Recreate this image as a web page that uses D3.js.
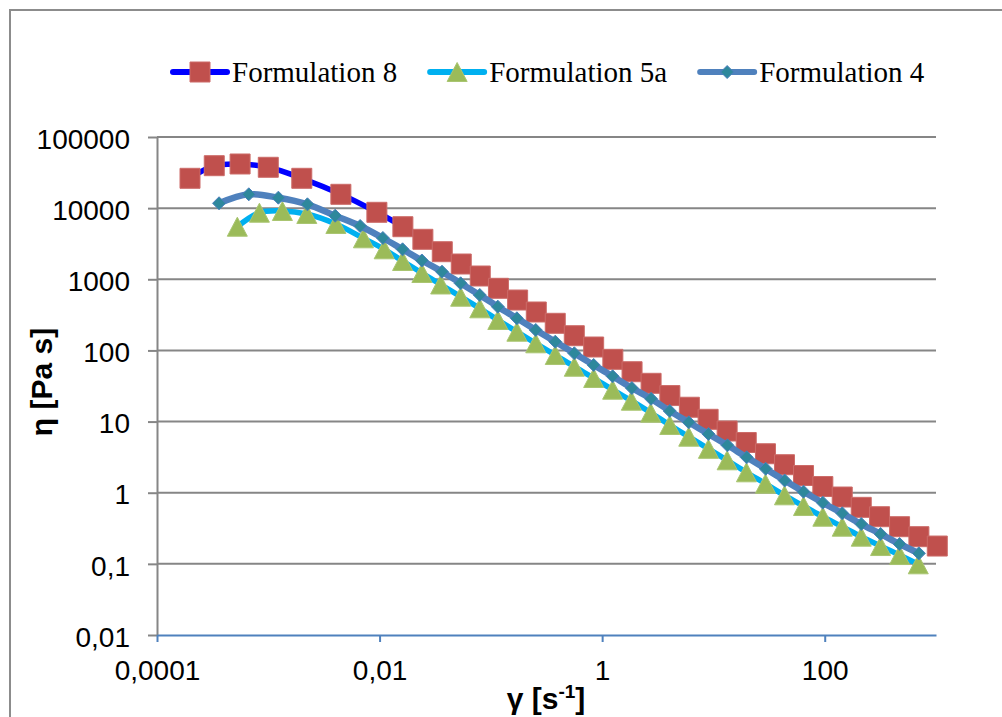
<!DOCTYPE html>
<html>
<head>
<meta charset="utf-8">
<script src="https://cdn.jsdelivr.net/npm/d3@7"></script>
<style>
body { margin: 0; background: #fff; }
text { font-family: Arial, "Liberation Sans", sans-serif; }
</style>
</head>
<body>
<div id="chart"></div>
<script>
// chart size
var width = 1002, height = 717;

// data
var seriesNames = ["Formulation 8", "Formulation 5a", "Formulation 4"];

var shear8 = [1.98e-4, 3.27e-4, 5.58e-4, 1.00e-3, 2.00e-3, 4.49e-3, 9.46e-3, 0.0162, 0.0245, 0.0366,
  0.0542, 0.0803, 0.117, 0.174, 0.256, 0.379, 0.562, 0.839, 1.248, 1.857,
  2.753, 4.06, 6.08, 8.96, 13.28, 19.72, 29.35, 43.5, 64.5, 96.2,
  143.7, 212.9, 311, 470.6, 702, 1027];
var visc8 = [26270, 39500, 41740, 37520, 26270, 15650, 8740, 5484, 3648, 2441,
  1640, 1112, 747, 511, 347, 240.6, 161, 111.7, 75.0, 50.2,
  34.5, 23.2, 15.9, 10.76, 7.37, 5.08, 3.53, 2.475, 1.745, 1.222,
  0.870, 0.623, 0.46, 0.333, 0.241, 0.178];

var shear5a = [5.27e-4, 8.32e-4, 1.339e-3, 2.219e-3, 4.05e-3, 7.16e-3, 0.011, 0.0161, 0.0240, 0.0354,
  0.0535, 0.0795, 0.1155, 0.1713, 0.2532, 0.379, 0.562, 0.839, 1.243, 1.83,
  2.73, 4.05, 6.0, 9.02, 13.28, 19.8, 29.35, 43.5, 64.5, 96.2,
  143.7, 212.9, 317.6, 470.6, 693];
var visc5a = [5484, 8627, 9117, 8271, 5986, 3767, 2639, 1807, 1226, 845,
  569, 391, 267.7, 183.3, 125.9, 86.2, 59.0, 40.96, 28.04, 19.64,
  13.32, 8.95, 6.13, 4.14, 2.854, 1.935, 1.338, 0.919, 0.650, 0.46,
  0.333, 0.241, 0.178, 0.133, 0.0985];

var shear4 = [3.61e-4, 6.68e-4, 1.232e-3, 2.247e-3, 3.99e-3, 6.69e-3, 0.01071, 0.0161, 0.0240, 0.0364,
  0.0535, 0.0795, 0.1155, 0.1713, 0.2532, 0.379, 0.562, 0.839, 1.243, 1.849,
  2.753, 4.05, 6.0, 9.02, 13.37, 19.89, 29.5, 43.7, 64.5, 96.2,
  143.7, 212.9, 317.6, 470.6, 702];
var visc4 = [11700, 15650, 14020, 11320, 7830, 5610, 3805, 2639, 1837, 1278,
  878, 601, 412, 282.8, 193.6, 132.6, 91.1, 62.4, 43.3, 29.6,
  20.9, 14.08, 9.76, 6.69, 4.64, 3.146, 2.168, 1.484, 1.033, 0.723,
  0.513, 0.363, 0.263, 0.190, 0.1406];

var xTicks = [1e-4, 1e-2, 1, 100];
var xTickLabels = ["0,0001", "0,01", "1", "100"];
var yTicks = [0.01, 0.1, 1, 10, 100, 1000, 10000, 100000];
var yTickLabels = ["0,01", "0,1", "1", "10", "100", "1000", "10000", "100000"];

// series styles
var series = [
  { name: seriesNames[0], xs: shear8, ys: visc8, line: "#0000ff", lw: 5.5, marker: "square", fill: "#c0504d", stroke: "#cc6b68" },
  { name: seriesNames[1], xs: shear5a, ys: visc5a, line: "#00b0f0", lw: 5.5, marker: "triangle", fill: "#9bbb59", stroke: "#a9c571" },
  { name: seriesNames[2], xs: shear4, ys: visc4, line: "#4f81bd", lw: 6.5, marker: "diamond", fill: "#2e889c", stroke: "#4a7fbd" }
];

var markerPath = {
  square: "M-10,-10H10V10H-10Z",
  triangle: "M0,-9.5L10,9.5L-10,9.5Z",
  diamond: "M0,-6.5L6.5,0L0,6.5L-6.5,0Z"
};

var svg = d3.select("#chart")
  .append("svg")
  .attr("width", width)
  .attr("height", height);

// outer frame (runs off the picture at right and bottom)
svg.append("rect")
  .attr("x", 10).attr("y", 10)
  .attr("width", 1100).attr("height", 800)
  .attr("fill", "none")
  .attr("stroke", "#8c8c8c")
  .attr("stroke-width", 2);

var x = d3.scaleLog().domain([1e-4, 1e3]).range([157, 936]);
var y = d3.scaleLog().domain([0.01, 1e5]).range([635, 137]);

// horizontal gridlines
svg.append("g")
  .selectAll("line")
  .data(yTicks.slice(1))
  .enter()
  .append("line")
  .attr("x1", x.range()[0]).attr("x2", x.range()[1])
  .attr("y1", function(d) { return y(d); })
  .attr("y2", function(d) { return y(d); })
  .attr("stroke", "#868686")
  .attr("stroke-width", 2);

// y axis
var yAxis = svg.append("g")
  .attr("transform", "translate(" + x.range()[0] + ",0)")
  .call(d3.axisLeft(y)
    .tickValues(yTicks)
    .tickSize(9)
    .tickSizeOuter(0)
    .tickPadding(18)
    .tickFormat(function(d, i) { return yTickLabels[i]; }));
yAxis.select(".domain").attr("stroke", "#868686").attr("stroke-width", 2);
yAxis.selectAll(".tick line").attr("stroke", "#868686").attr("stroke-width", 2);
yAxis.selectAll(".tick text")
  .attr("font-size", 28)
  .attr("fill", "#000")
  .attr("dy", "0.4em");

// x axis
var xAxis = svg.append("g")
  .attr("transform", "translate(0," + y.range()[0] + ")")
  .call(d3.axisBottom(x)
    .tickValues(xTicks)
    .tickSize(7)
    .tickSizeOuter(0)
    .tickFormat(function(d, i) { return xTickLabels[i]; }));
xAxis.select(".domain").attr("stroke", "#4f81bd").attr("stroke-width", 2);
xAxis.selectAll(".tick line").attr("stroke", "#4f81bd").attr("stroke-width", 2);
xAxis.selectAll(".tick text")
  .attr("font-size", 28)
  .attr("fill", "#000")
  .attr("y", 45)
  .attr("dy", 0);

// axis titles
svg.append("text")
  .attr("transform", "translate(51.5,382) rotate(-90)")
  .attr("text-anchor", "middle")
  .attr("font-size", 30)
  .attr("font-weight", "bold")
  .text("η [Pa s]");

var xTitle = svg.append("text")
  .attr("x", 546)
  .attr("y", 709)
  .attr("text-anchor", "middle")
  .attr("font-size", 30)
  .attr("font-weight", "bold");
xTitle.append("tspan").text("γ [s");
xTitle.append("tspan").attr("font-size", 19).attr("dy", -11).text("-1");
xTitle.append("tspan").attr("dy", 11).text("]");

// series
var line = d3.line()
  .x(function(d) { return x(d[0]); })
  .y(function(d) { return y(d[1]); })
  .curve(d3.curveCatmullRom.alpha(0.5));

series.forEach(function(s) {
  var pts = s.xs.map(function(v, i) { return [v, s.ys[i]]; });
  var g = svg.append("g");
  g.append("path")
    .datum(pts)
    .attr("d", line)
    .attr("fill", "none")
    .attr("stroke", s.line)
    .attr("stroke-width", s.lw)
    .attr("stroke-linejoin", "round")
    .attr("stroke-linecap", "round");
  g.selectAll("path.mk")
    .data(pts)
    .enter()
    .append("path")
    .attr("class", "mk")
    .attr("d", markerPath[s.marker])
    .attr("transform", function(d) { return "translate(" + x(d[0]) + "," + y(d[1]) + ")"; })
    .attr("fill", s.fill)
    .attr("stroke", s.stroke)
    .attr("stroke-width", 1);
});

// legend
var legend = svg.append("g");
var lx = 173, ly = 72;
series.forEach(function(s) {
  var item = legend.append("g").attr("transform", "translate(" + lx + "," + ly + ")");
  item.append("line")
    .attr("x1", 0).attr("x2", 54)
    .attr("stroke", s.line)
    .attr("stroke-width", 6)
    .attr("stroke-linecap", "round");
  item.append("path")
    .attr("d", markerPath[s.marker])
    .attr("transform", "translate(27,0)")
    .attr("fill", s.fill)
    .attr("stroke", s.stroke)
    .attr("stroke-width", 1);
  var t = item.append("text")
    .attr("x", 59)
    .attr("y", 10)
    .style("font-family", "'Times New Roman', 'Liberation Serif', serif")
    .attr("font-size", 29)
    .text(s.name);
  lx += 59 + t.node().getComputedTextLength() + 33;
});
</script>
</body>
</html>
